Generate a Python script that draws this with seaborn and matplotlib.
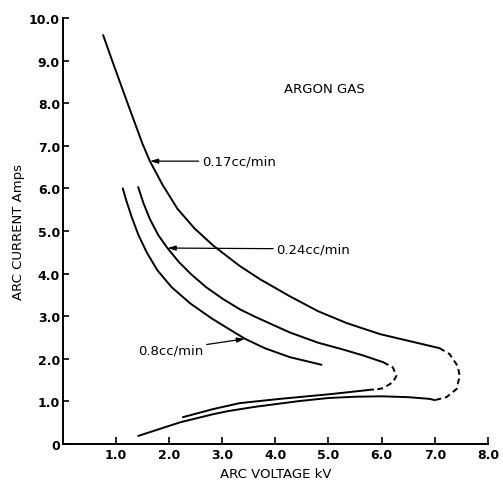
import matplotlib
matplotlib.use("Agg")
import matplotlib.pyplot as plt
import seaborn as sns
import pandas as pd

# ---- data ----
# 0.17 cc/min
a_up_v = [0.76, 0.93, 1.22, 1.50, 1.64, 1.88, 2.16, 2.48, 2.84, 3.33, 3.71, 4.27, 4.80, 5.34, 5.97, 6.58, 7.09]
a_up_i = [9.60, 9.00, 8.00, 7.05, 6.64, 6.08, 5.52, 5.06, 4.65, 4.18, 3.87, 3.47, 3.12, 2.84, 2.58, 2.40, 2.25]
a_dash_v = [7.09, 7.28, 7.43, 7.47, 7.41, 7.22, 7.00]
a_dash_i = [2.25, 2.11, 1.83, 1.60, 1.29, 1.10, 1.03]
a_low_v = [7.00, 6.90, 6.50, 6.00, 5.50, 5.00, 4.46, 4.09, 3.60, 3.10, 2.83, 2.21, 1.42]
a_low_i = [1.03, 1.06, 1.10, 1.12, 1.11, 1.08, 1.01, 0.95, 0.87, 0.77, 0.70, 0.51, 0.19]
# 0.24 cc/min
b_up_v = [1.42, 1.52, 1.64, 1.80, 1.97, 2.18, 2.42, 2.70, 3.02, 3.35, 3.65, 4.27, 4.80, 5.27, 5.65, 6.03]
b_up_i = [6.03, 5.65, 5.28, 4.90, 4.60, 4.28, 3.98, 3.68, 3.40, 3.15, 2.97, 2.62, 2.38, 2.22, 2.08, 1.92]
b_dash_v = [6.03, 6.21, 6.28, 6.21, 6.03, 5.84]
b_dash_i = [1.92, 1.80, 1.60, 1.45, 1.31, 1.27]
b_low_v = [5.84, 5.03, 4.09, 3.33, 2.83, 2.26]
b_low_i = [1.28, 1.17, 1.06, 0.96, 0.82, 0.63]
# 0.8 cc/min
c_v = [1.13, 1.20, 1.30, 1.42, 1.58, 1.78, 2.05, 2.40, 2.80, 3.10, 3.43, 3.80, 4.27, 4.87]
c_i = [6.00, 5.70, 5.32, 4.92, 4.50, 4.08, 3.68, 3.30, 2.95, 2.72, 2.47, 2.25, 2.04, 1.86]

x_ticks = [1, 2, 3, 4, 5, 6, 7, 8]
x_labels = ["1.0", "2.0", "3.0", "4.0", "5.0", "6.0", "7.0", "8.0"]
y_ticks = [0, 1, 2, 3, 4, 5, 6, 7, 8, 9, 10]
y_labels = ["0", "1.0", "2.0", "3.0", "4.0", "5.0", "6.0", "7.0", "8.0", "9.0", "10.0"]

sns.set_theme(style="ticks")
plt.rcParams["font.family"] = ["DejaVu Sans"]
plt.rcParams["text.color"] = "black"
plt.rcParams["axes.labelcolor"] = "black"
plt.rcParams["xtick.color"] = "black"
plt.rcParams["ytick.color"] = "black"

fig = plt.figure(figsize=(5.03, 4.81), dpi=100)
ax = fig.add_axes([0.1247, 0.0748, 0.8453, 0.8857])

LW = 1.4
solid = [(a_up_v, a_up_i), (a_low_v, a_low_i), (b_up_v, b_up_i), (b_low_v, b_low_i), (c_v, c_i)]
dashed = [(a_dash_v, a_dash_i), (b_dash_v, b_dash_i)]
for v, i in solid:
    df = pd.DataFrame({"v": v, "i": i})
    sns.lineplot(data=df, x="v", y="i", sort=False, estimator=None, color="black", lw=LW, ax=ax)
for v, i in dashed:
    df = pd.DataFrame({"v": v, "i": i})
    sns.lineplot(data=df, x="v", y="i", sort=False, estimator=None, color="black", lw=LW,
                 ax=ax, linestyle=(0, (3, 2)))

ax.set_xlim(0, 8)
ax.set_ylim(0, 10)
ax.set_xticks(x_ticks)
ax.set_xticklabels(x_labels)
ax.set_yticks(y_ticks)
ax.set_yticklabels(y_labels)
for lab in ax.get_xticklabels() + ax.get_yticklabels():
    lab.set_fontweight("bold")
    lab.set_fontsize(9)
    lab.set_color("black")
ax.tick_params(axis="x", direction="in", length=5, width=1.2, pad=3)
ax.tick_params(axis="y", direction="in", length=4, width=1.2, pad=2)
sns.despine(ax=ax)
for s in ("left", "bottom"):
    ax.spines[s].set_linewidth(1.4)
    ax.spines[s].set_color("black")

ax.set_xlabel("ARC VOLTAGE kV", fontsize=9.5, labelpad=4, color="black")
ax.set_ylabel("ARC CURRENT Amps", fontsize=9.5, labelpad=3, color="black")

ax.text(4.93, 8.35, "ARGON GAS", fontsize=9.5, ha="center", va="center", color="black")

arrow = dict(arrowstyle="-|>,head_length=0.5,head_width=0.15", color="black", lw=0.9,
             shrinkA=0, shrinkB=0)
ax.annotate("0.17cc/min", xy=(1.64, 6.64), xytext=(2.62, 6.64), fontsize=9.5, color="black",
            ha="left", va="center", arrowprops=arrow)
ax.annotate("0.24cc/min", xy=(1.97, 4.60), xytext=(4.02, 4.58), fontsize=9.5, color="black",
            ha="left", va="center", arrowprops=arrow)
ax.annotate("0.8cc/min", xy=(3.43, 2.47), xytext=(1.42, 2.21), fontsize=9.5, color="black",
            ha="left", va="center", arrowprops=arrow)

fig.savefig("out.png", dpi=100, facecolor="white")
